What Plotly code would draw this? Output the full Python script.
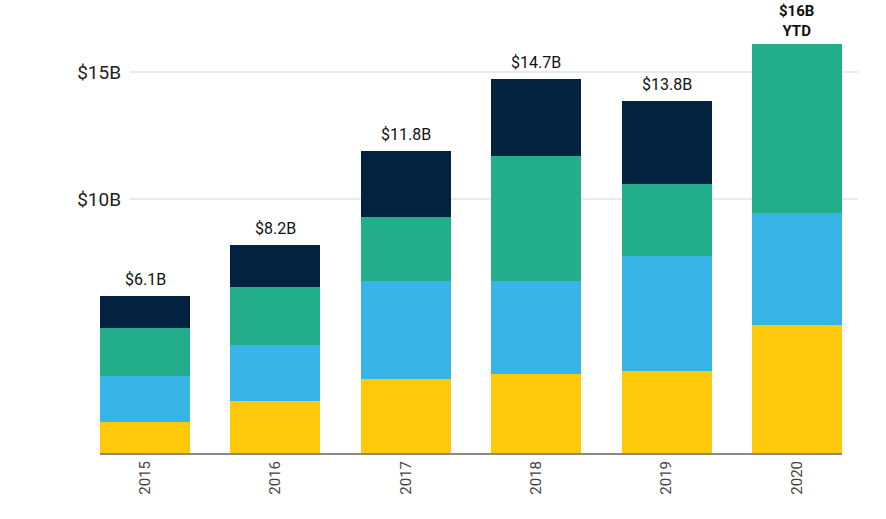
import plotly.graph_objects as go

years = ["2015", "2016", "2017", "2018", "2019", "2020"]
seg_yellow = [1.22, 2.06, 2.90, 3.12, 3.23, 5.06]
seg_blue = [1.80, 2.20, 3.86, 3.64, 4.54, 4.39]
seg_green = [1.90, 2.28, 2.54, 4.92, 2.84, 6.65]
seg_navy = [1.27, 1.65, 2.61, 3.04, 3.26, 0.0]
total_labels = ["$6.1B", "$8.2B", "$11.8B", "$14.7B", "$13.8B", "<b>$16B<br>YTD</b>"]
y_tick_vals = [10, 15]
y_tick_text = ["$10B", "$15B"]

colors = ["#FEC90B", "#39B4E6", "#22AD8B", "#03223F"]
series = [seg_yellow, seg_blue, seg_green, seg_navy]

FONT = "Roboto"

fig = go.Figure()
for vals, col in zip(series, colors):
    fig.add_trace(go.Bar(x=years, y=vals, marker=dict(color=col, line=dict(width=0)),
                         hoverinfo="skip", showlegend=False))

totals = [sum(v) for v in zip(*series)]
for i, (tot, lab) in enumerate(zip(totals, total_labels)):
    last = i == len(totals) - 1
    fig.add_annotation(x=i, y=tot, xref="x", yref="y", text=lab, showarrow=False,
                       yanchor="bottom", yshift=2 if last else 5,
                       font=dict(family=FONT, size=15 if last else 16, color="#111111"))

for v in y_tick_vals:
    fig.add_shape(type="line", xref="paper", yref="y", x0=0.04, x1=1.0216, y0=v, y1=v,
                  line=dict(color="#E3E3E3", width=1.5), layer="below")

fig.update_layout(
    width=886, height=519,
    margin=dict(l=100, r=44, t=1, b=66),
    barmode="stack", bargap=0.31,
    plot_bgcolor="white", paper_bgcolor="white",
    font=dict(family=FONT),
    xaxis=dict(type="category", range=[-0.346, 5.346], showline=True, linecolor="#8A8A8A",
               linewidth=2, tickangle=-90, ticks="", showgrid=False,
               tickfont=dict(family=FONT, size=15, color="#444444")),
    yaxis=dict(range=[0, 17.8], showgrid=False, zeroline=False, tickvals=y_tick_vals,
               ticktext=y_tick_text, ticklabelstandoff=-22,
               tickfont=dict(family=FONT, size=19, color="#222222")),
)

fig.write_html("out.html", config={"displayModeBar": False},
               post_script="document.body.style.margin='0';")
